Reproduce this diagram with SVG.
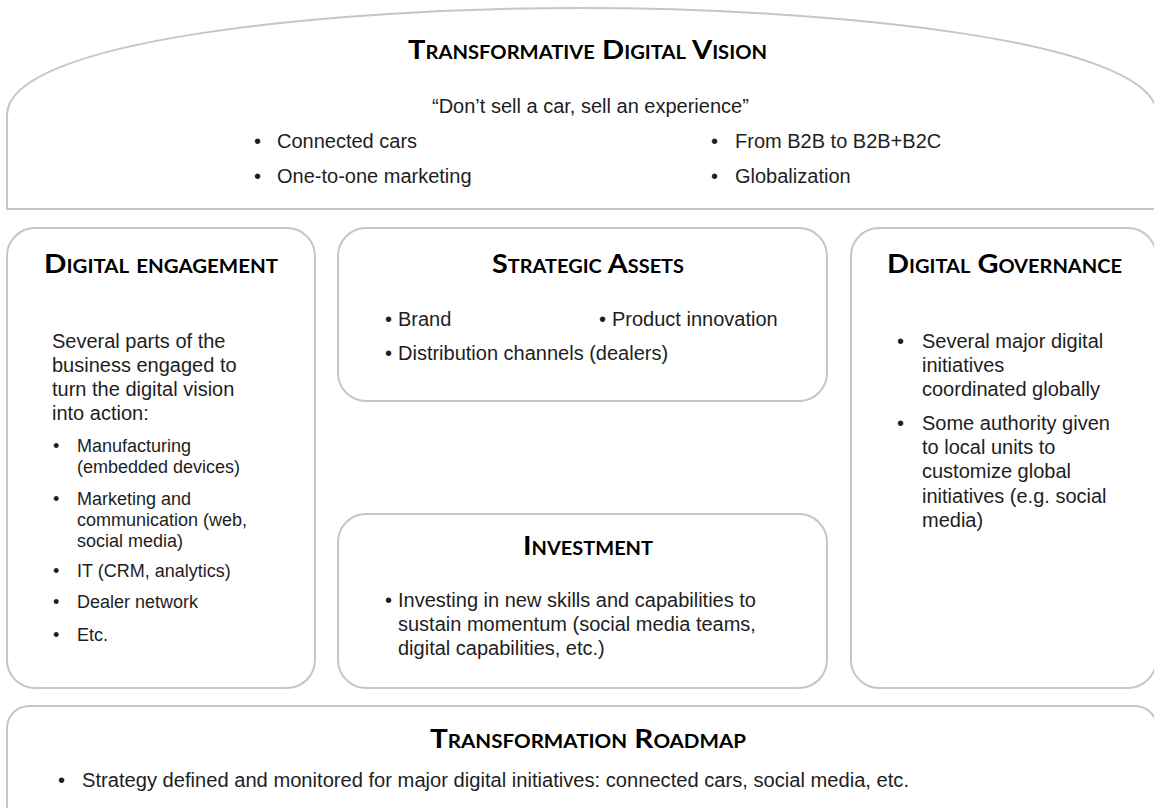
<svg xmlns="http://www.w3.org/2000/svg" width="1154" height="808" viewBox="0 0 1154 808">
  <style>
    .box { fill: #ffffff; stroke: #c6c6c6; stroke-width: 2; }
    .title { font-family: Lato, "Open Sans", sans-serif; font-weight: bold; font-variant: small-caps; font-size: 26px; fill: #000000; }
    .body { font-family: "Liberation Sans", Arial, sans-serif; font-size: 20px; fill: #1e1e1e; }
    .small { font-family: "Liberation Sans", Arial, sans-serif; font-size: 18px; fill: #1e1e1e; }
  </style>
  <rect width="1154" height="808" fill="#ffffff"/>

  <g id="vision">
    <path class="box" d="M7,209 L7,115 C7,40 330,8 580,8 C830,8 1157,40 1157,115 L1157,209 Z"/>
    <text class="title" x="408" y="59" textLength="359" lengthAdjust="spacingAndGlyphs">Transformative Digital Vision</text>
    <text class="body" x="432" y="113">“Don’t sell a car, sell an experience”</text>
    <text class="body" x="254" y="148">•</text>
    <text class="body" x="277" y="148">Connected cars</text>
    <text class="body" x="254" y="183">•</text>
    <text class="body" x="277" y="183">One-to-one marketing</text>
    <text class="body" x="711" y="148">•</text>
    <text class="body" x="735" y="148">From B2B to B2B+B2C</text>
    <text class="body" x="711" y="183">•</text>
    <text class="body" x="735" y="183">Globalization</text>
  </g>

  <g id="engagement">
    <rect class="box" x="7" y="228" width="308" height="460" rx="28" ry="28"/>
    <text class="title" x="44" y="273" textLength="234" lengthAdjust="spacingAndGlyphs">Digital engagement</text>
    <text class="body" x="52" y="348">Several parts of the</text>
    <text class="body" x="52" y="372">business engaged to</text>
    <text class="body" x="52" y="396">turn the digital vision</text>
    <text class="body" x="52" y="420">into action:</text>
    <text class="small" x="53" y="452">•</text>
    <text class="small" x="77" y="452">Manufacturing</text>
    <text class="small" x="77" y="473">(embedded devices)</text>
    <text class="small" x="53" y="505">•</text>
    <text class="small" x="77" y="505">Marketing and</text>
    <text class="small" x="77" y="526">communication (web,</text>
    <text class="small" x="77" y="547">social media)</text>
    <text class="small" x="53" y="577">•</text>
    <text class="small" x="77" y="577">IT (CRM, analytics)</text>
    <text class="small" x="53" y="608">•</text>
    <text class="small" x="77" y="608">Dealer network</text>
    <text class="small" x="53" y="641">•</text>
    <text class="small" x="77" y="641">Etc.</text>
  </g>

  <g id="assets">
    <rect class="box" x="338" y="228" width="489" height="173" rx="28" ry="28"/>
    <text class="title" x="492" y="273" textLength="192" lengthAdjust="spacingAndGlyphs">Strategic Assets</text>
    <text class="body" x="385" y="326">•</text>
    <text class="body" x="398" y="326">Brand</text>
    <text class="body" x="599" y="326">•</text>
    <text class="body" x="612" y="326">Product innovation</text>
    <text class="body" x="385" y="360">•</text>
    <text class="body" x="398" y="360">Distribution channels (dealers)</text>
  </g>

  <g id="investment">
    <rect class="box" x="338" y="514" width="489" height="174" rx="28" ry="28"/>
    <text class="title" x="523" y="555" textLength="130" lengthAdjust="spacingAndGlyphs">Investment</text>
    <text class="body" x="385" y="607">•</text>
    <text class="body" x="398" y="607">Investing in new skills and capabilities to</text>
    <text class="body" x="398" y="631">sustain momentum (social media teams,</text>
    <text class="body" x="398" y="655">digital capabilities, etc.)</text>
  </g>

  <g id="governance">
    <rect class="box" x="851" y="228" width="305" height="460" rx="28" ry="28"/>
    <text class="title" x="887" y="273" textLength="235" lengthAdjust="spacingAndGlyphs">Digital Governance</text>
    <text class="body" x="897" y="348">•</text>
    <text class="body" x="922" y="348">Several major digital</text>
    <text class="body" x="922" y="372">initiatives</text>
    <text class="body" x="922" y="396">coordinated globally</text>
    <text class="body" x="897" y="430">•</text>
    <text class="body" x="922" y="430">Some authority given</text>
    <text class="body" x="922" y="454">to local units to</text>
    <text class="body" x="922" y="478">customize global</text>
    <text class="body" x="922" y="503">initiatives (e.g. social</text>
    <text class="body" x="922" y="527">media)</text>
  </g>

  <g id="roadmap">
    <rect class="box" x="7" y="706" width="1150" height="130" rx="22" ry="22"/>
    <text class="title" x="430" y="748" textLength="316" lengthAdjust="spacingAndGlyphs">Transformation Roadmap</text>
    <text class="body" x="58" y="787">•</text>
    <text class="body" x="82" y="787" textLength="827" lengthAdjust="spacingAndGlyphs">Strategy defined and monitored for major digital initiatives: connected cars, social media, etc.</text>
  </g>

  <g id="connectors"></g>
</svg>
